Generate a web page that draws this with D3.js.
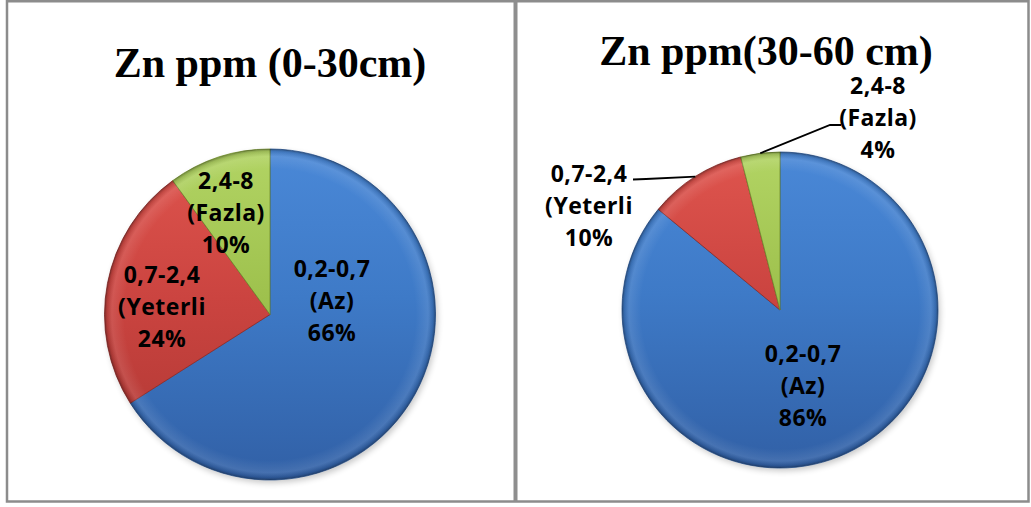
<!DOCTYPE html>
<html>
<head>
<meta charset="utf-8">
<script src="https://cdn.jsdelivr.net/npm/d3@7"></script>
<style>
  html, body { margin: 0; padding: 0; background: #fff; }
  svg { display: block; }
</style>
</head>
<body>
<script>
// Zinc classes (ppm) and their share of samples at two soil depths
const rangeLabels = ["0,2-0,7", "0,7-2,4", "2,4-8"];
const classLabels = ["(Az)", "(Yeterli", "(Fazla)"];
const shallowShare = [66, 24, 10];   // 0-30 cm
const deepShare = [86, 10, 4];       // 30-60 cm
const chartTitles = ["Zn ppm (0-30cm)", "Zn ppm(30-60 cm)"];

// Slice styling: a light-to-dark vertical shade plus a darker rim
const sliceColors = [
  { top: "#4A88D7", mid: "#3E7AC7", bottom: "#3160A6", edge: "#2A5490" },
  { top: "#DF554E", mid: "#CB4440", bottom: "#AC3632", edge: "#8C2A27" },
  { top: "#B2D464", mid: "#9EC14D", bottom: "#87A83B", edge: "#6E8B2C" }
];

// Panel layout: pie centre/radius, title anchor, label anchors relative to the centre
const panels = [
  {
    values: shallowShare, title: chartTitles[0],
    titleX: 270, titleY: 77, cx: 270, cy: 314.5, r: 165.5,
    labels: [
      { dx: 62, dy: -5.5 },
      { dx: -108, dy: 0 },
      { dx: -44, dy: -93.5 }
    ]
  },
  {
    values: deepShare, title: chartTitles[1],
    titleX: 766, titleY: 65, cx: 780, cy: 310, r: 158,
    labels: [
      { dx: 23, dy: 83.5 },
      { dx: -191, dy: -96, leader: [[-134, -131], [-147, -130.5]] },
      { dx: 98, dy: -184, leader: [[50, -185], [61, -185]] }
    ]
  }
];

const W = 1031, H = 507;
const svg = d3.select("body").append("svg")
  .attr("width", W).attr("height", H)
  .attr("viewBox", `0 0 ${W} ${H}`);

const defs = svg.append("defs");
const blur = defs.append("filter").attr("id", "soft")
  .attr("x", "-20%").attr("y", "-20%").attr("width", "140%").attr("height", "140%");
blur.append("feGaussianBlur").attr("stdDeviation", 3);

// Outer frame and the divider between the two charts
svg.append("rect")
  .attr("x", 7).attr("y", 1.25).attr("width", 1021.5).attr("height", 500.25)
  .attr("fill", "none").attr("stroke", "#8c8c8c").attr("stroke-width", 2.5);
svg.append("line")
  .attr("x1", 515.5).attr("x2", 515.5).attr("y1", 0).attr("y2", 502)
  .attr("stroke", "#8e8e8e").attr("stroke-width", 4);

const pie = d3.pie().sort(null).value(d => d)
  .startAngle(0).endAngle(2 * Math.PI);

panels.forEach((p, pi) => {
  const g = svg.append("g").attr("transform", `translate(${p.cx},${p.cy})`);
  const arc = d3.arc().innerRadius(0).outerRadius(p.r);
  const arcs = pie(p.values);

  // gradients for this pie
  sliceColors.forEach((c, i) => {
    const lg = defs.append("linearGradient").attr("id", `shade${pi}_${i}`)
      .attr("gradientUnits", "userSpaceOnUse")
      .attr("x1", 0).attr("y1", -p.r).attr("x2", 0).attr("y2", p.r);
    lg.append("stop").attr("offset", 0).attr("stop-color", c.top);
    lg.append("stop").attr("offset", 0.45).attr("stop-color", c.mid);
    lg.append("stop").attr("offset", 1).attr("stop-color", c.bottom);
  });
  const rim = defs.append("radialGradient").attr("id", `rim${pi}`)
    .attr("gradientUnits", "userSpaceOnUse")
    .attr("cx", 0).attr("cy", 0).attr("r", p.r);
  rim.append("stop").attr("offset", 0.88).attr("stop-color", "#fff").attr("stop-opacity", 0);
  rim.append("stop").attr("offset", 0.955).attr("stop-color", "#fff").attr("stop-opacity", 0.10);
  rim.append("stop").attr("offset", 0.985).attr("stop-color", "#000").attr("stop-opacity", 0.12);
  rim.append("stop").attr("offset", 1).attr("stop-color", "#000").attr("stop-opacity", 0.35);

  // soft shadow under the pie
  g.append("circle")
    .attr("cx", 2).attr("cy", 3).attr("r", p.r)
    .attr("fill", "#000").attr("opacity", 0.22)
    .attr("filter", "url(#soft)");

  g.selectAll("path.slice").data(arcs).enter().append("path")
    .attr("class", "slice")
    .attr("d", arc)
    .attr("fill", (d, i) => `url(#shade${pi}_${i})`)
    .attr("stroke", (d, i) => sliceColors[i].edge)
    .attr("stroke-width", 0.8)
    .attr("stroke-linejoin", "round");

  g.append("circle").attr("r", p.r)
    .attr("fill", `url(#rim${pi})`).attr("pointer-events", "none");

  // leader lines for labels placed outside the pie
  arcs.forEach((d, i) => {
    const lab = p.labels[i];
    if (!lab.leader) return;
    const a = (d.startAngle + d.endAngle) / 2;
    const start = [Math.sin(a) * p.r, -Math.cos(a) * p.r];
    g.append("polyline")
      .attr("points", [start, ...lab.leader].map(q => q.join(",")).join(" "))
      .attr("fill", "none").attr("stroke", "#000").attr("stroke-width", 1.8);
  });

  // data labels: range, class and share
  arcs.forEach((d, i) => {
    const lab = p.labels[i];
    const t = g.append("text")
      .attr("text-anchor", "middle")
      .attr("font-family", "'Open Sans', 'Noto Sans', sans-serif")
      .attr("font-weight", 700)
      .attr("font-size", 23)
      .attr("letter-spacing", 0.5)
      .attr("fill", "#000");
    const lines = [rangeLabels[i], classLabels[i], `${d.data}%`];
    lines.forEach((s, k) => {
      t.append("tspan")
        .attr("x", lab.dx)
        .attr("y", lab.dy + (k - 1) * 32)
        .text(s);
    });
  });

  // chart title
  svg.append("text")
    .attr("x", p.titleX).attr("y", p.titleY)
    .attr("text-anchor", "middle")
    .attr("font-family", "'Liberation Serif', 'Times New Roman', serif")
    .attr("font-weight", 700)
    .attr("font-size", 42)
    .attr("fill", "#000")
    .text(p.title);
});
</script>
</body>
</html>
